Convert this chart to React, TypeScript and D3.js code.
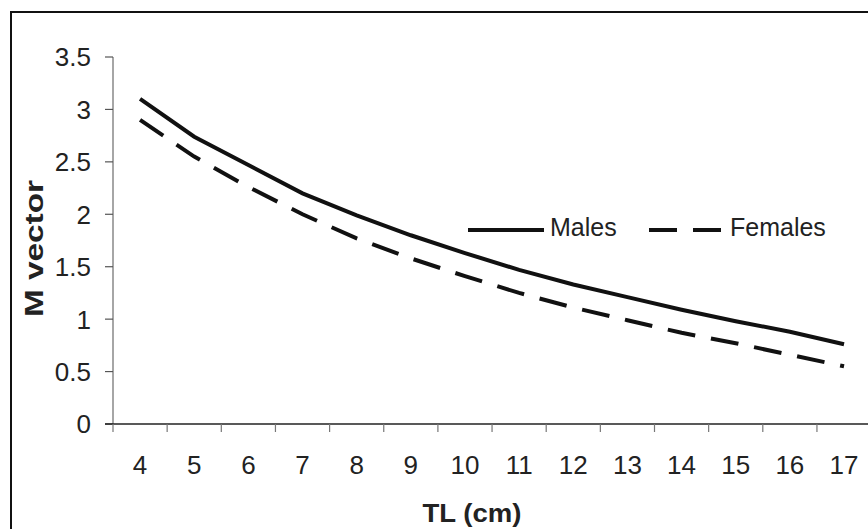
import React from "react";
import * as d3 from "d3";

const categories = ["4", "5", "6", "7", "8", "9", "10", "11", "12", "13", "14", "15", "16", "17"];
const males = [3.10, 2.74, 2.47, 2.20, 1.99, 1.80, 1.63, 1.47, 1.33, 1.21, 1.09, 0.98, 0.88, 0.76];
const females = [2.90, 2.55, 2.26, 2.00, 1.77, 1.58, 1.41, 1.25, 1.11, 0.99, 0.87, 0.77, 0.66, 0.55];
const yTicks = [0, 0.5, 1, 1.5, 2, 2.5, 3, 3.5];
const yTickLabels = ["0", "0.5", "1", "1.5", "2", "2.5", "3", "3.5"];

export default function App() {
  const W = 868, H = 529;
  const left = 113, bottom = 424, top = 57;
  const step = 54.15;
  const x = d3.scaleBand<string>().domain(categories).range([left, left + step * categories.length]).padding(0);
  const y = d3.scaleLinear().domain([0, 3.5]).range([bottom, top]);
  const cx = (c: string) => (x(c) as number) + x.bandwidth() / 2;
  const line = d3.line<number>().x((_, i) => cx(categories[i])).y((v) => y(v));
  const font = "Arial, 'Liberation Sans', Helvetica, sans-serif";
  const xTickPositions = d3.range(categories.length + 1).map((i) => left + i * x.bandwidth());

  return (
    <svg width={W} height={H} style={{ position: "absolute", left: 0, top: 0, background: "#fff" }} fontFamily={font}>
      <rect x={11} y={12} width={880} height={540} fill="#fff" stroke="#111" strokeWidth={2} />
      {/* y axis */}
      <line x1={left} x2={left} y1={top} y2={bottom} stroke="#888" strokeWidth={1.5} />
      {yTicks.map((t, i) => (
        <g key={t}>
          <line x1={left - 8} x2={left} y1={y(t)} y2={y(t)} stroke="#555" strokeWidth={1.2} />
          <text x={91} y={y(t)} dy="0.36em" textAnchor="end" fontSize={26} fill="#222">{yTickLabels[i]}</text>
        </g>
      ))}
      {/* x axis */}
      <line x1={left - 8} x2={W} y1={bottom} y2={bottom} stroke="#222" strokeWidth={1.5} />
      {xTickPositions.map((p, i) => (
        <line key={i} x1={p} x2={p} y1={bottom} y2={bottom + 8} stroke="#777" strokeWidth={1.2} />
      ))}
      {categories.map((c) => (
        <text key={c} x={cx(c)} y={474} textAnchor="middle" fontSize={26} fill="#222">{c}</text>
      ))}
      {/* axis titles */}
      <text x={472} y={522} textAnchor="middle" fontSize={26} fontWeight="bold" fill="#222" textLength={99} lengthAdjust="spacingAndGlyphs">TL (cm)</text>
      <text transform="translate(43,248.5) rotate(-90)" textAnchor="middle" fontSize={26} fontWeight="bold" fill="#222" textLength={137} lengthAdjust="spacingAndGlyphs">M vector</text>
      {/* series */}
      <path d={line(males) || ""} fill="none" stroke="#111" strokeWidth={4} />
      <path d={line(females) || ""} fill="none" stroke="#111" strokeWidth={4} strokeDasharray="28 16" />
      {/* legend */}
      <line x1={468} x2={544} y1={230} y2={230} stroke="#111" strokeWidth={4} />
      <text x={550} y={236} fontSize={25} fill="#222">Males</text>
      <line x1={649} x2={722} y1={230} y2={230} stroke="#111" strokeWidth={4} strokeDasharray="28 16" />
      <text x={730} y={236} fontSize={25} fill="#222">Females</text>
    </svg>
  );
}
